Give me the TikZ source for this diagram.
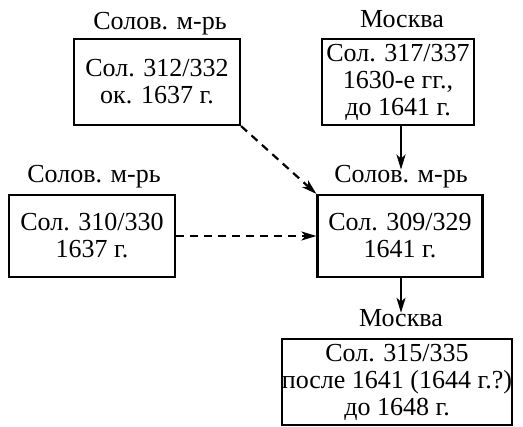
\documentclass[tikz,border=0pt]{standalone}
\usepackage{fontspec}
\setmainfont{Liberation Serif}
\usetikzlibrary{arrows.meta}
\tikzset{
  msbox/.style={draw, line width=2.2pt, align=center, inner sep=0pt,
    font=\fontsize{26}{27}\selectfont},
  place/.style={inner sep=0pt, anchor=base, font=\fontsize{26}{27}\selectfont},
}
\begin{document}
\begin{tikzpicture}[x=1pt,y=-1pt]
      \useasboundingbox (0,0) rectangle (523,427);
      \draw
        (157,82) node[msbox, minimum width=166pt, minimum height=86pt] (s312){Сол. 312/332\\ок. 1637 г.}
        (398,82) node[msbox, minimum width=152pt, minimum height=86pt] (s317){Сол. 317/337\\1630-е гг.,\\до 1641 г.}
        (92,236) node[msbox, minimum width=166pt, minimum height=82pt] (s310){Сол. 310/330\\1637 г.}
        (400,236) node[msbox, minimum width=165pt, minimum height=82pt] (s309){Сол. 309/329\\1641 г.}
        (397,382) node[msbox, minimum width=229pt, minimum height=86pt] (s315){Сол. 315/335\\после 1641 (1644 г.?)\\до 1648 г.};
      \draw
        (160,30) node[place] (l312){Солов. м-рь}
        (402,28) node[place] (l317){Москва}
        (94,183) node[place] (l310){Солов. м-рь}
        (401,183) node[place] (l309){Солов. м-рь}
        (401,327) node[place] (l315){Москва};
      \begin{scope}[line width=2.2pt, -{Stealth[length=15pt,width=9pt,inset=4pt]}]
        \draw[dash pattern=on 8pt off 6pt] (s312.south east) to (s309.north west);
        \draw[dash pattern=on 8pt off 6pt] (s310.east) to (s309.west);
        \draw (s317.south -| l309.north) to ([yshift=-4pt]l309.north);
        \draw (s309.south -| l315.north) to ([yshift=-3pt]l315.north);
      \end{scope}
    \end{tikzpicture}
\end{document}
